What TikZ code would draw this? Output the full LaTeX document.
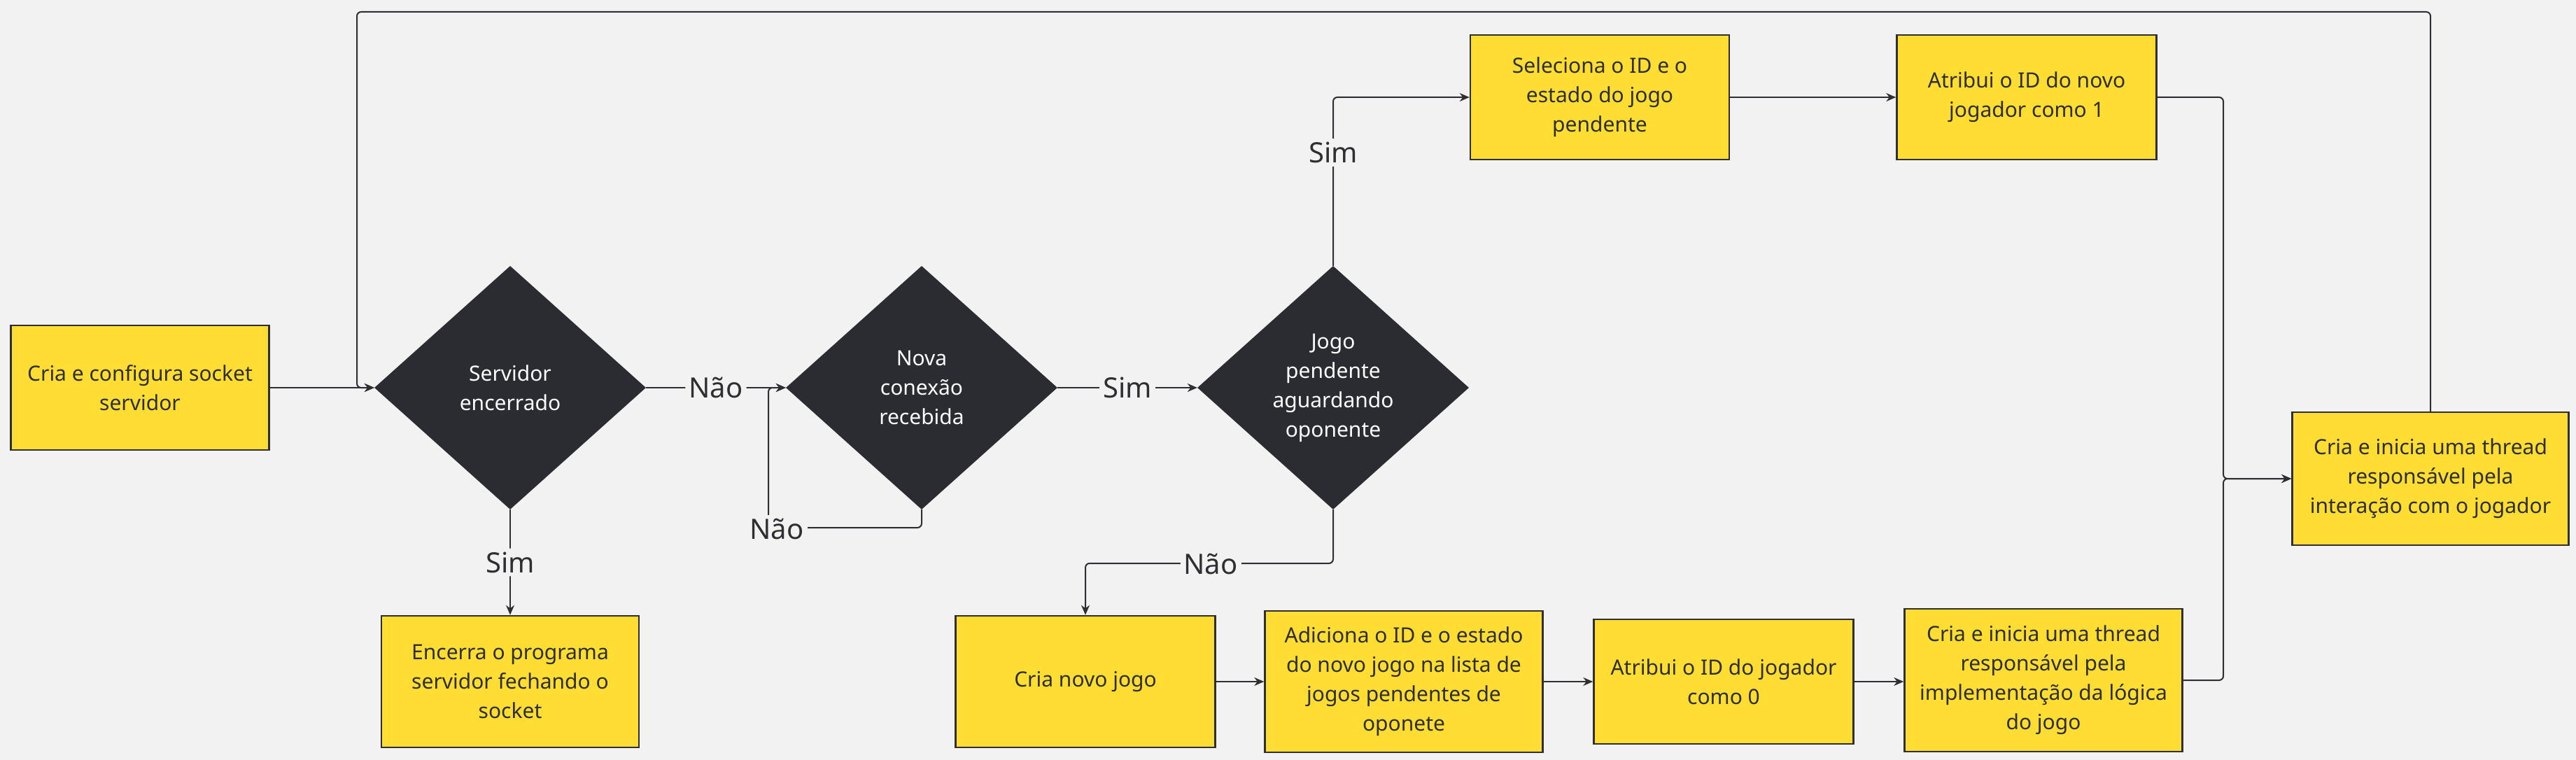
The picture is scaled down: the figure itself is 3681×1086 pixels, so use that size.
\documentclass[tikz,border=0pt]{standalone}
\usepackage{fontspec}
\setmainfont{Noto Sans}
\usetikzlibrary{shapes.geometric,arrows.meta}
\definecolor{bg}{HTML}{F2F2F2}
\definecolor{boxyellow}{HTML}{FFDD33}
\definecolor{linec}{HTML}{2E2E33}
\definecolor{decfill}{HTML}{2B2C31}
\newcommand{\boxfont}{\fontsize{30}{42}\selectfont}
\newcommand{\labfont}{\fontsize{40}{48}\selectfont}
\begin{document}
\begin{tikzpicture}[x=1pt,y=-1pt,
  proc/.style={draw=linec, line width=2.5pt, fill=boxyellow, align=center, font=\boxfont, text=linec, inner sep=0pt},
  dec/.style={shape=diamond, fill=decfill, text=white, align=center, font=\boxfont, minimum width=388pt, minimum height=348pt, inner sep=0pt},
  conn/.style={draw=linec, line width=2pt, -{Stealth[length=14pt,width=12pt]}, rounded corners=6pt},
  lab/.style={fill=bg, font=\labfont, text=linec, inner sep=5pt}]
\fill[bg] (0,0) rectangle (3681,1086);
\useasboundingbox (0,0) rectangle (3681,1086);

% process boxes
\node[proc, minimum width=369pt, minimum height=178pt] (b1) at (200,554) {Cria e configura socket\\servidor};
\node[proc, minimum width=368pt, minimum height=188pt] (enc) at (729,974) {Encerra o programa\\servidor fechando o\\socket};
\node[proc, minimum width=371pt, minimum height=188pt] (novo) at (1551,974) {Cria novo jogo};
\node[proc, minimum width=397pt, minimum height=202pt] (adic) at (2006,974) {Adiciona o ID e o estado\\do novo jogo na lista de\\jogos pendentes de\\oponete};
\node[proc, minimum width=371pt, minimum height=178pt] (atr0) at (2463,974) {Atribui o ID do jogador\\como 0};
\node[proc, minimum width=397pt, minimum height=204pt] (logi) at (2920,972) {Cria e inicia uma thread\\responsável pela\\implementação da lógica\\do jogo};
\node[proc, minimum width=370pt, minimum height=178pt] (sel) at (2286,139) {Seleciona o ID e o\\estado do jogo\\pendente};
\node[proc, minimum width=371pt, minimum height=178pt] (atr1) at (2896,139) {Atribui o ID do novo\\jogador como 1};
\node[proc, minimum width=395pt, minimum height=190pt] (inter) at (3473,684) {Cria e inicia uma thread\\responsável pela\\interação com o jogador};

% decisions
\node[dec] (d1) at (729,554) {Servidor\\encerrado};
\node[dec] (d2) at (1317,554) {Nova\\conexão\\recebida};
\node[dec] (d3) at (1905,554) {Jogo\\pendente\\aguardando\\oponente};

% helper coordinates
\coordinate (j) at (3177,684);
\coordinate (loopL) at (510,17);
\coordinate (loopR) at (3473,17);

% connectors
\draw[conn] (b1.east) -- (d1.west);
\draw[conn] (d1.east) -- node[lab] {Não} (d2.west);
\draw[conn] (d1.south) -- node[lab] {Sim} (enc.north);
\draw[conn] (d2.south) -- (1317,754) -- (1098,754) -- (1098,554) -- (d2.west);
\node[lab] (lnao2) at (1110,756) {Não};
\draw[conn] (d2.east) -- node[lab] {Sim} (d3.west);
\draw[conn] (d3.north) -- (1905,139) -- (sel.west);
\node[lab] (lsim3) at (1905,218) {Sim};
\draw[conn] (sel.east) -- (atr1.west);
\draw[conn] (atr1.east) -- (j |- atr1.east) -- (j) -- (inter.west);
\draw[conn] (d3.south) -- (1905,805) -- (1551,805) -- (novo.north);
\node[lab] (lnao3) at (1730,806) {Não};
\draw[conn] (novo.east) -- (adic.west |- novo.east);
\draw[conn] (adic.east |- atr0.west) -- (atr0.west);
\draw[conn] (atr0.east) -- (logi.west |- atr0.east);
\draw[conn] (logi.east) -- (j |- logi.east) -- (j) -- (inter.west);
\draw[conn] (inter.north) -- (loopR) -- (loopL) -- (510,554) -- (d1.west);
\end{tikzpicture}
\end{document}
